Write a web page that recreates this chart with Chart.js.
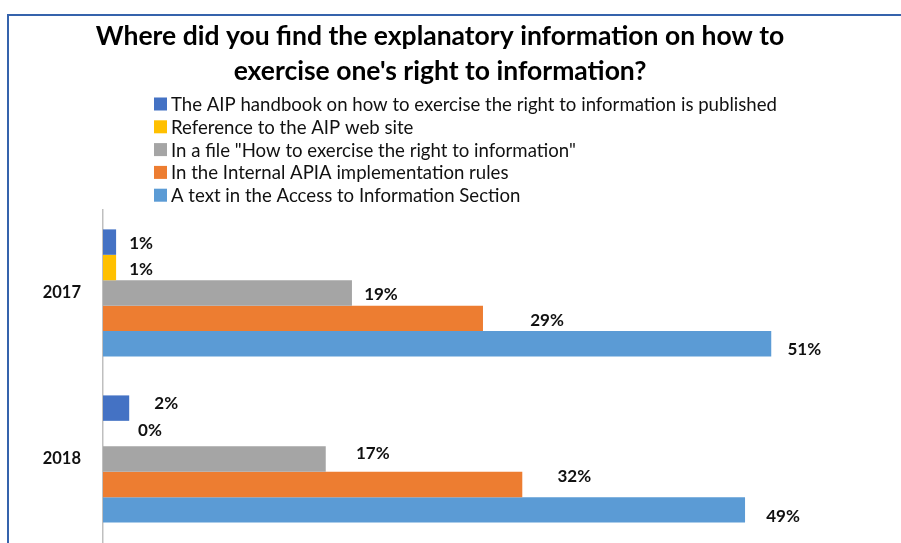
<!DOCTYPE html>
<html>
<head>
<meta charset="utf-8">
<title>Explanatory information on the right to information</title>
<script src="https://cdn.jsdelivr.net/npm/chart.js@4.4.1/dist/chart.umd.min.js"></script>
<style>
  html, body { margin: 0; padding: 0; background: #fff; }
  #wrap { position: relative; width: 901px; height: 543px; }
</style>
</head>
<body>
<div id="wrap"><canvas id="chart"></canvas></div>
<script>
// Survey years (categories on the vertical axis)
const years = ['2017', '2018'];

// Where the explanatory information was found, in percent per year
const handbook = [1, 2];
const webSite = [1, 0];
const fileHowTo = [19, 17];
const internalRules = [29, 32];
const infoSection = [51, 49];

const seriesNames = [
  'The AIP handbook on how to exercise the right to information is published',
  'Reference to the AIP web site',
  'In a file "How to exercise the right to information"',
  'In the Internal APIA implementation rules',
  'A text in the Access to Information Section'
];
const seriesValues = [handbook, webSite, fileHowTo, internalRules, infoSection];
const seriesColors = ['#4472C4', '#FFC000', '#A5A5A5', '#ED7D31', '#5B9BD5'];

// Small hand nudges for the value labels, [dx from bar end to text centre, dy], per dataset per year
const labelNudge = [
  [[25, 1.5], [37, -4.4]],
  [[25, 1.8], [47, -3.2]],
  [[29, 1.3], [47, -5.2]],
  [[64, 2], [52, -8.3]],
  [[33, 5.2], [38, 7]]
];

const FONT = 'Lato, "Open Sans", sans-serif';

// Outer frame of the chart, only the top and left edges are visible
const framePlugin = {
  id: 'frame',
  beforeDraw(chart) {
    const ctx = chart.ctx;
    ctx.save();
    ctx.strokeStyle = '#3563AC';
    ctx.lineWidth = 2;
    ctx.beginPath();
    ctx.moveTo(8, chart.height + 5);
    ctx.lineTo(8, 15);
    ctx.lineTo(chart.width + 5, 15);
    ctx.stroke();
    ctx.restore();
  }
};

// Legend as a vertical list under the title
const listLegend = {
  id: 'listLegend',
  afterDraw(chart) {
    const ctx = chart.ctx;
    ctx.save();
    ctx.font = '18.6px ' + FONT;
    ctx.textBaseline = 'middle';
    chart.data.datasets.forEach((ds, i) => {
      const y = 104 + i * 22.8;
      ctx.fillStyle = ds.backgroundColor;
      ctx.fillRect(154, y - 6.5, 13, 13);
      ctx.fillStyle = '#111';
      ctx.fillText(ds.label, 171, y + 1);
    });
    ctx.restore();
  }
};

// Percent labels next to each bar
const valueLabels = {
  id: 'valueLabels',
  afterDatasetsDraw(chart) {
    const ctx = chart.ctx;
    ctx.save();
    ctx.font = 'bold 17px ' + FONT;
    ctx.textAlign = 'center';
    ctx.textBaseline = 'middle';
    ctx.fillStyle = '#111';
    chart.data.datasets.forEach((ds, i) => {
      chart.getDatasetMeta(i).data.forEach((bar, j) => {
        const [dx, dy] = labelNudge[i][j];
        ctx.fillText(ds.data[j] + '%', bar.x + dx, bar.y + dy);
      });
    });
    ctx.restore();
  }
};

new Chart(document.getElementById('chart'), {
  type: 'bar',
  data: {
    labels: years,
    datasets: seriesNames.map((name, i) => ({
      label: name,
      data: seriesValues[i],
      backgroundColor: seriesColors[i],
      borderWidth: 0,
      categoryPercentage: 0.766,
      barPercentage: 1
    }))
  },
  options: {
    indexAxis: 'y',
    responsive: true,
    maintainAspectRatio: false,
    animation: false,
    layout: { padding: { top: 0, right: 21, bottom: 1, left: 0 } },
    plugins: {
      legend: { display: false },
      tooltip: { enabled: false },
      title: {
        display: true,
        text: ['Where did you find the explanatory information on how to', 'exercise one\'s right to information?'],
        color: '#000',
        font: { family: FONT, size: 26.5, weight: 'bold', lineHeight: 1.32 },
        padding: { top: 18.5, bottom: 121.5 }
      }
    },
    scales: {
      x: {
        display: false,
        min: 0,
        max: 59.3
      },
      y: {
        grid: { display: false },
        border: { display: true, color: '#BFBFBF', width: 1.5 },
        ticks: {
          padding: 14,
          color: '#111',
          font: { family: FONT, size: 16.5, weight: 'bold' }
        },
        afterFit(scale) {
          scale.width = 103;
          scale.paddingTop = 0;
          scale.paddingBottom = 0;
        }
      }
    }
  },
  plugins: [framePlugin, listLegend, valueLabels]
});
</script>
</body>
</html>
